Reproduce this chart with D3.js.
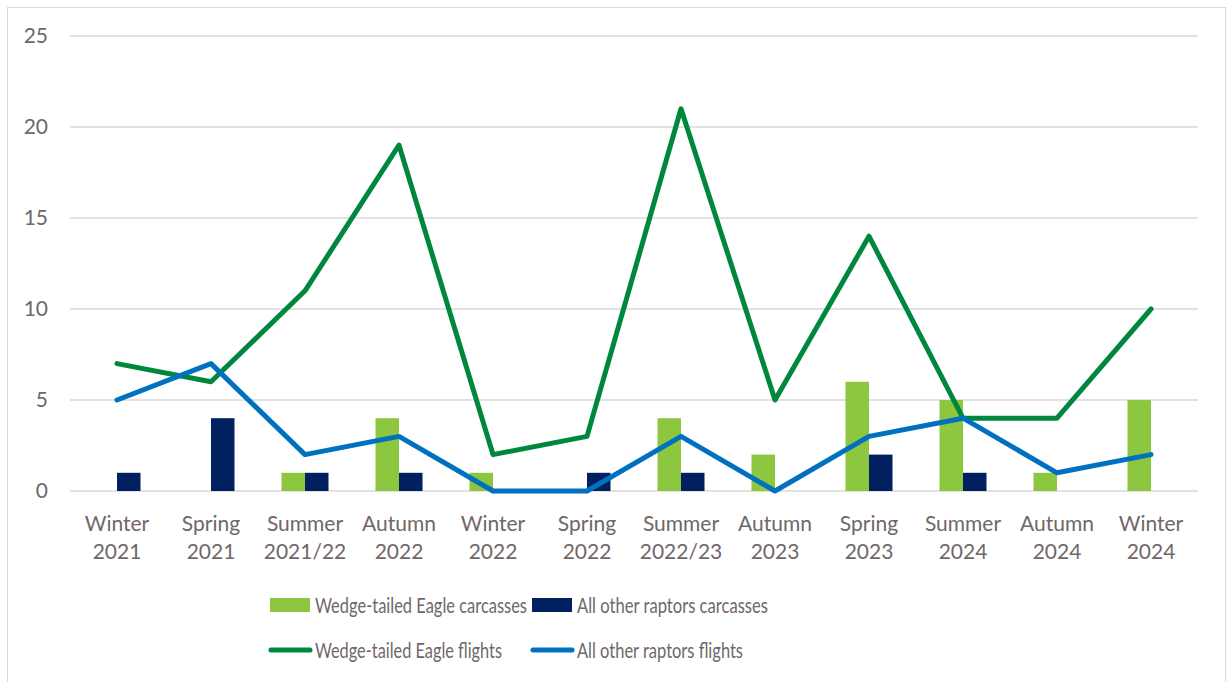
<!DOCTYPE html>
<html>
<head>
<meta charset="utf-8">
<script src="https://cdn.jsdelivr.net/npm/d3@7"></script>
<style>
  html, body { margin: 0; padding: 0; background: #fff; }
  svg { display: block; font-family: Lato, "Open Sans", sans-serif; }
</style>
</head>
<body>
<svg width="1226" height="682"></svg>
<script>
// data
var seasons = ['Winter 2021', 'Spring 2021', 'Summer 2021/22', 'Autumn 2022', 'Winter 2022', 'Spring 2022',
  'Summer 2022/23', 'Autumn 2023', 'Spring 2023', 'Summer 2024', 'Autumn 2024', 'Winter 2024'];
var wteCarcasses = [0, 0, 1, 4, 1, 0, 4, 2, 6, 5, 1, 5];
var otherCarcasses = [1, 4, 1, 1, 0, 1, 1, 0, 2, 1, 0, 0];
var wteFlights = [7, 6, 11, 19, 2, 3, 21, 5, 14, 4, 4, 10];
var otherFlights = [5, 7, 2, 3, 0, 0, 3, 0, 3, 4, 1, 2];
var yTicks = [0, 5, 10, 15, 20, 25];

var textColor = '#6f6768';
var fontSize = 21;
var c = {
  wteBar: '#8dc63f',
  otherBar: '#002060',
  wteLine: '#00873e',
  otherLine: '#0070c0'
};

var svg = d3.select('svg');

// outer frame
svg.append('rect')
  .attr('x', 7.5).attr('y', 7.5)
  .attr('width', 1218).attr('height', 680)
  .attr('fill', 'none').attr('stroke', '#d9d9d9');

var x = d3.scaleBand().domain(seasons).range([70, 1198]).paddingInner(0.5).paddingOuter(0.25);
var xc = function (s) { return x(s) + x.bandwidth() / 2; };
var x1 = d3.scaleBand().domain(['wte', 'other']).range([0, x.bandwidth()]);
var y = d3.scaleLinear().domain([0, 25]).range([491, 36]);

// gridlines
svg.append('g').selectAll('line').data(yTicks).enter().append('line')
  .attr('x1', 70).attr('x2', 1198)
  .attr('y1', function (d) { return y(d); })
  .attr('y2', function (d) { return y(d); })
  .attr('stroke', '#d9d9d9').attr('stroke-width', 1.3);

// y labels
svg.append('g').selectAll('text').data(yTicks).enter().append('text')
  .attr('x', 48).attr('y', function (d) { return y(d); })
  .attr('dy', '0.35em').attr('text-anchor', 'end')
  .attr('fill', textColor).attr('font-size', fontSize)
  .text(function (d) { return d; });

// x labels, two lines each
var xl = svg.append('g').selectAll('text').data(seasons).enter().append('text')
  .attr('text-anchor', 'middle').attr('fill', textColor).attr('font-size', fontSize);
xl.append('tspan')
  .attr('x', function (d) { return xc(d); }).attr('y', 531)
  .text(function (d) { return d.split(' ')[0]; });
xl.append('tspan')
  .attr('x', function (d) { return xc(d); }).attr('y', 559)
  .text(function (d) { return d.split(' ')[1]; });

// bars
var bars = svg.append('g');
bars.selectAll('rect.wte').data(wteCarcasses).enter().append('rect')
  .attr('x', function (d, i) { return x(seasons[i]) + x1('wte'); })
  .attr('y', function (d) { return y(d); })
  .attr('width', x1.bandwidth())
  .attr('height', function (d) { return y(0) - y(d); })
  .attr('fill', c.wteBar);
bars.selectAll('rect.other').data(otherCarcasses).enter().append('rect')
  .attr('x', function (d, i) { return x(seasons[i]) + x1('other'); })
  .attr('y', function (d) { return y(d); })
  .attr('width', x1.bandwidth())
  .attr('height', function (d) { return y(0) - y(d); })
  .attr('fill', c.otherBar);

// lines
var line = d3.line()
  .x(function (d, i) { return xc(seasons[i]); })
  .y(function (d) { return y(d); });

svg.append('path').datum(wteFlights)
  .attr('d', line).attr('fill', 'none')
  .attr('stroke', c.wteLine).attr('stroke-width', 5)
  .attr('stroke-linejoin', 'round').attr('stroke-linecap', 'round');
svg.append('path').datum(otherFlights)
  .attr('d', line).attr('fill', 'none')
  .attr('stroke', c.otherLine).attr('stroke-width', 5)
  .attr('stroke-linejoin', 'round').attr('stroke-linecap', 'round');

// legend (text squeezed a bit, the original font is narrower)
var legend = [
  { name: 'Wedge-tailed Eagle carcasses', type: 'bar', color: c.wteBar, x: 270, y: 605, w: 212 },
  { name: 'All other raptors carcasses', type: 'bar', color: c.otherBar, x: 532, y: 605, w: 191 },
  { name: 'Wedge-tailed Eagle flights', type: 'line', color: c.wteLine, x: 270, y: 650, w: 187 },
  { name: 'All other raptors flights', type: 'line', color: c.otherLine, x: 532, y: 650, w: 166 }
];
var lg = svg.append('g').selectAll('g').data(legend).enter().append('g')
  .attr('transform', function (d) { return 'translate(' + d.x + ',' + d.y + ')'; });
lg.each(function (d) {
  var g = d3.select(this);
  if (d.type === 'bar') {
    g.append('rect').attr('x', 0).attr('y', -7).attr('width', 40).attr('height', 14).attr('fill', d.color);
  } else {
    g.append('line').attr('x1', 1).attr('x2', 40).attr('y1', 0).attr('y2', 0)
      .attr('stroke', d.color).attr('stroke-width', 5).attr('stroke-linecap', 'round');
  }
});
lg.append('text')
  .attr('x', 45).attr('y', 0).attr('dy', '0.35em')
  .attr('textLength', function (d) { return d.w; })
  .attr('lengthAdjust', 'spacingAndGlyphs')
  .attr('fill', textColor).attr('font-size', 22)
  .text(function (d) { return d.name; });
</script>
</body>
</html>
